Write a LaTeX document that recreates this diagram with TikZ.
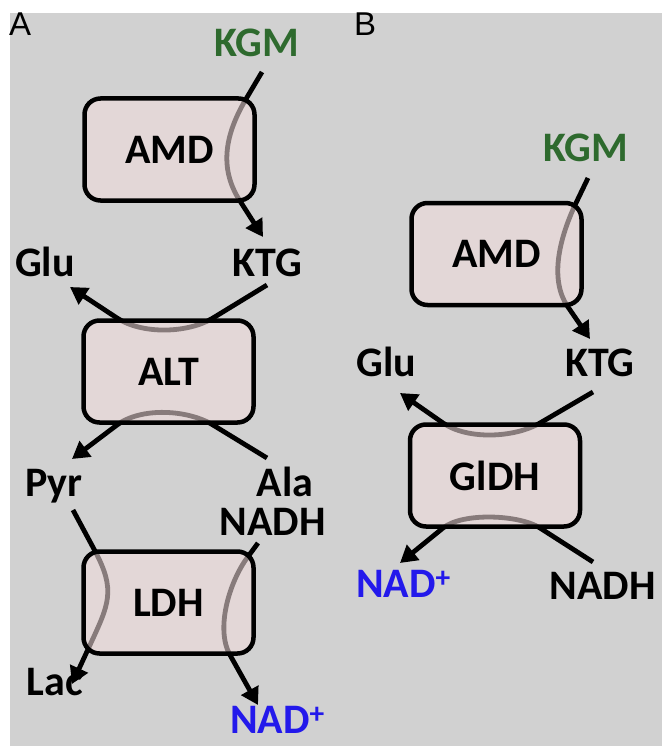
\documentclass[tikz,border=0pt]{standalone}
\usepackage{fontspec}
\setmainfont{Carlito}
\setsansfont{Liberation Sans}
\usetikzlibrary{arrows.meta}
\definecolor{bg}{RGB}{209,209,209}
\definecolor{boxfill}{RGB}{242,220,220}
\definecolor{kgmgreen}{RGB}{46,106,46}
\definecolor{nadblue}{RGB}{35,25,235}
\begin{document}
\begin{tikzpicture}[x=1pt,y=-1pt,
  lbl/.style={font=\fontsize{42}{44}\selectfont\bfseries, inner sep=0pt, anchor=base},
  panel/.style={font=\sffamily\fontsize{33}{35}\selectfont, inner sep=0pt, anchor=base west},
  enz/.style={draw=black, line width=4.5pt, rounded corners=16pt, fill=boxfill, fill opacity=0.56,
    text opacity=1, minimum width=170pt, minimum height=102pt, inner sep=0pt,
    font=\fontsize{42}{44}\selectfont\bfseries},
  flow/.style={line width=4.8pt, line join=round, -{Triangle[length=17pt,width=19pt]}}]
\useasboundingbox (0,0) rectangle (662,746);
\fill[white] (0,0) rectangle (662,746);
\fill[bg] (10,13) rectangle (662,746);

% panel letters
\node[panel] (pA) at (9,36) {A};
\node[panel] (pB) at (354,36) {B};

% ---------- panel A labels
\node[lbl, text=kgmgreen] (kgmA) at (256.5,57) {KGM};
\node[lbl] (ktgA) at (267.5,276) {KTG};
\node[lbl] (gluA) at (45,276) {Glu};
\node[lbl] (pyrA) at (54,496) {Pyr};
\node[lbl] (alaA) at (285,496) {Ala};
\node[lbl] (nadhA) at (272.5,535) {NADH};
\node[lbl] (lacA) at (55,695) {Lac};
\node[lbl, text=nadblue] (nadA) at (277.5,733) {NAD\textsuperscript{+}};

% ---------- panel B labels
\node[lbl, text=kgmgreen] (kgmB) at (586,161) {KGM};
\node[lbl] (ktgB) at (600,376) {KTG};
\node[lbl] (gluB) at (386.5,376) {Glu};
\node[lbl, text=nadblue] (nadB) at (403.5,597) {NAD\textsuperscript{+}};
\node[lbl] (nadhB) at (602.5,599) {NADH};

% ---------- connector end points
\coordinate (kgmAs) at (262,72);   \coordinate (ktgAe) at (263,237);
\coordinate (ktgAs) at (267,285);  \coordinate (gluAe) at (70,287);
\coordinate (alaAs) at (267,458);  \coordinate (pyrAe) at (72,459);
\coordinate (pyrAs) at (73,510);   \coordinate (lacAe) at (72,684);
\coordinate (nadhAs) at (258,543); \coordinate (nadAe) at (258,705);
\coordinate (kgmBs) at (588,178);  \coordinate (ktgBe) at (590,339);
\coordinate (ktgBs) at (593,392);  \coordinate (gluBe) at (400,393);
\coordinate (nadhBs) at (593,562); \coordinate (nadBe) at (400,563);

% ---------- connectors (drawn under the translucent boxes)
\draw[flow] (kgmAs) -- (246,99) .. controls (226,133) and (218,167) .. (240,201) -- (ktgAe);
\draw[flow] (ktgAs) -- (213,318) .. controls (187.5,333.6) and (142,334.5) .. (117,318) -- (gluAe);
\draw[flow] (alaAs) -- (213,425) .. controls (187.5,409.4) and (141,407) .. (117,425) -- (pyrAe);
\draw[flow] (pyrAs) -- (95,551) .. controls (116,590.6) and (108.9,604) .. (90,645) -- (lacAe);
\draw[flow] (nadhAs) -- (247,558) .. controls (229.3,582.3) and (215.3,628.9) .. (230,655) -- (nadAe);
\draw[flow] (kgmBs) -- (576,203) .. controls (561,234.5) and (548,278.3) .. (568,307) -- (ktgBe);
\draw[flow] (ktgBs) -- (540,423) .. controls (514,438) and (467.6,440) .. (443,423) -- (gluBe);
\draw[flow] (nadhBs) -- (540,528) .. controls (519,514.5) and (462.5,512.25) .. (443,528) -- (nadBe);

% ---------- enzyme boxes
\node[enz] (amdA) at (169.5,149.5) {AMD};
\node[enz] (altA) at (168.5,371.5) {ALT};
\node[enz] (ldhA) at (168.5,602.5) {LDH};
\node[enz] (amdB) at (496.5,254) {AMD};
\node[enz] (gldhB) at (495,475.5) {GlDH};
\end{tikzpicture}
\end{document}
